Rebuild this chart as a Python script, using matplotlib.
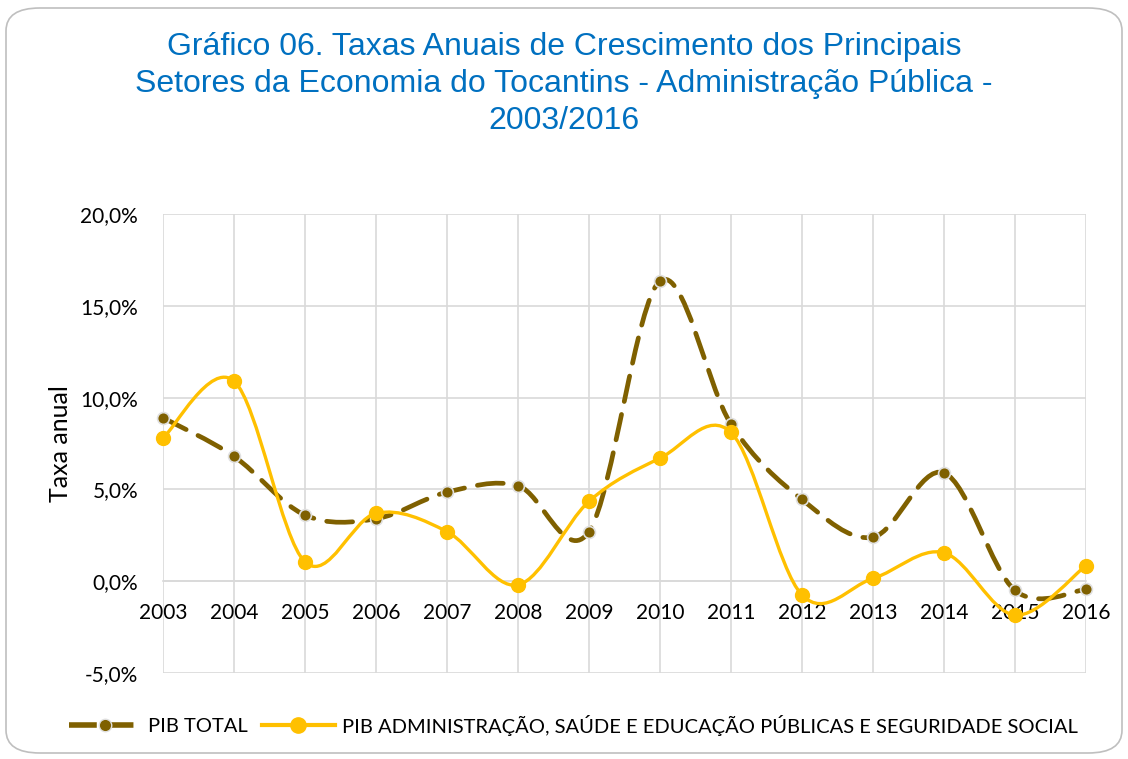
import matplotlib
matplotlib.use("Agg")
import matplotlib.pyplot as plt
from matplotlib.path import Path
from matplotlib.patches import PathPatch, FancyBboxPatch
from matplotlib.lines import Line2D
import numpy as np

years = [2003, 2004, 2005, 2006, 2007, 2008, 2009, 2010, 2011, 2012, 2013, 2014, 2015, 2016]
pib_total = [8.9, 6.8, 3.6, 3.4, 4.85, 5.2, 2.7, 16.35, 8.55, 4.45, 2.4, 5.9, -0.5, -0.45]
pib_adm = [7.8, 10.9, 1.05, 3.7, 2.7, -0.2, 4.35, 6.7, 8.1, -0.75, 0.15, 1.55, -1.85, 0.85]
yticks = [-5, 0, 5, 10, 15, 20]
ytick_labels = ["-5,0%", "0,0%", "5,0%", "10,0%", "15,0%", "20,0%"]

BROWN = "#7F6000"
GOLD = "#FFC000"
TEXT_FONT = ["Lato", "DejaVu Sans"]


def smooth_path(xs, ys):
    pts = np.column_stack([xs, ys]).astype(float)
    n = len(pts)
    verts = [pts[0]]
    codes = [Path.MOVETO]
    for i in range(n - 1):
        p0 = pts[i - 1] if i > 0 else pts[i]
        p1 = pts[i]
        p2 = pts[i + 1]
        p3 = pts[i + 2] if i + 2 < n else pts[i + 1]
        c1 = p1 + (p2 - p0) / 6.0
        c2 = p2 - (p3 - p1) / 6.0
        verts += [c1, c2, p2]
        codes += [Path.CURVE4] * 3
    return Path(verts, codes)


fig = plt.figure(figsize=(11.28, 7.59), dpi=100)
border = FancyBboxPatch((6 / 1128, 6 / 759), 1116 / 1128, 745 / 759,
                        boxstyle="round,pad=0,rounding_size=0.03",
                        transform=fig.transFigure, facecolor="white",
                        edgecolor="#BFBFBF", linewidth=1.2, zorder=-10)
fig.patches.append(border)

ax = fig.add_axes([163 / 1128, 1 - 673 / 759, (1086 - 163) / 1128, (673 - 214) / 759])
ax.set_zorder(1)
ax.set_facecolor("none")
ax.spines["bottom"].set_position(("data", 0))
for s in ["top", "right", "left"]:
    ax.spines[s].set_visible(False)
ax.spines["bottom"].set_color("#D9D9D9")
ax.spines["bottom"].set_linewidth(1.2)
ax.set_xlim(years[0], years[-1])
ax.set_ylim(-5, 20)
ax.set_yticks(yticks)
ax.set_yticklabels(ytick_labels, fontsize=15, family=TEXT_FONT)
ax.set_xticks(years)
ax.set_xticklabels([str(y) for y in years], fontsize=15, family=TEXT_FONT)
ax.tick_params(axis="y", length=0, pad=18)
ax.tick_params(axis="x", length=0, pad=16)
ax.grid(True, color="#D9D9D9", linewidth=1.2)
ax.set_axisbelow(True)
ax.set_ylabel("Taxa anual", fontsize=18, family=TEXT_FONT, labelpad=6)

# smoothed lines
p1 = PathPatch(smooth_path(years, pib_total), facecolor="none", edgecolor=BROWN,
               linewidth=3.4, linestyle=(0, (5.5, 2.8)), capstyle="round", zorder=3)
ax.add_patch(p1)
ax.plot(years, pib_total, linestyle="none", marker="o", markersize=8.5,
        markerfacecolor=BROWN, markeredgecolor="#E0E0E0", markeredgewidth=1.2, zorder=4, clip_on=False)

p2 = PathPatch(smooth_path(years, pib_adm), facecolor="none", edgecolor=GOLD,
               linewidth=2.4, zorder=5)
ax.add_patch(p2)
ax.plot(years, pib_adm, linestyle="none", marker="o", markersize=10,
        markerfacecolor=GOLD, markeredgecolor=GOLD, zorder=6, clip_on=False)

fig.text(0.5, 1 - 84 / 759,
         "Gráfico 06. Taxas Anuais de Crescimento dos Principais\n"
         "Setores da Economia do Tocantins - Administração Pública -\n"
         "2003/2016",
         ha="center", va="center", fontsize=23, color="#0070C0",
         family=["Liberation Sans", "DejaVu Sans"], linespacing=1.32)

h1 = Line2D([], [], color=BROWN, linewidth=4, linestyle=(0, (5, 1.6)), marker="o",
            markersize=9, markerfacecolor=BROWN, markeredgecolor="#E0E0E0")
h2 = Line2D([], [], color=GOLD, linewidth=3, marker="o", markersize=11,
            markerfacecolor=GOLD, markeredgecolor=GOLD)
fig.legend([h1, h2], ["PIB TOTAL", "PIB ADMINISTRAÇÃO, SAÚDE E EDUCAÇÃO PÚBLICAS E SEGURIDADE SOCIAL"],
           loc="center", bbox_to_anchor=(0.508, 1 - 725 / 759), ncol=2, frameon=False,
           prop={"family": TEXT_FONT, "size": 14.5}, handlelength=3.6, handletextpad=0.35,
           columnspacing=0.7)

fig.savefig("out.png", dpi=100, facecolor="white")
